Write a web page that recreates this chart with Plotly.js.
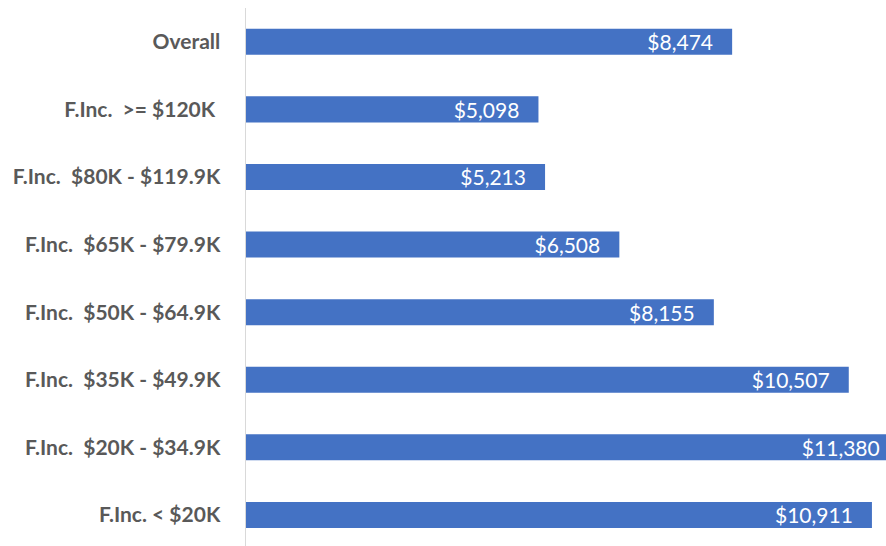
<!DOCTYPE html>
<html>
<head>
<meta charset="utf-8">
<script src="https://cdn.plot.ly/plotly-3.0.1.min.js"></script>
<style>html,body{margin:0;padding:0;background:#fff;}#chart{width:886px;height:546px;}</style>
</head>
<body>
<div id="chart"></div>
<script>
// Categories, top to bottom
var categories = [
  "Overall",
  "F.Inc.\u00a0 >= $120K\u00a0",
  "F.Inc.\u00a0 $80K - $119.9K",
  "F.Inc.\u00a0 $65K - $79.9K",
  "F.Inc.\u00a0 $50K - $64.9K",
  "F.Inc.\u00a0 $35K - $49.9K",
  "F.Inc.\u00a0 $20K - $34.9K",
  "F.Inc. < $20K"
];
var values = [8474, 5098, 5213, 6508, 8155, 10507, 11380, 10911];

var trace = {
  type: "bar",
  orientation: "h",
  x: values,
  y: categories,
  marker: {color: "#4472C4", line: {width: 0}},
  texttemplate: "$%{x:,}\u00a0\u00a0\u00a0",
  textposition: "inside",
  insidetextanchor: "end",
  textangle: 0,
  insidetextfont: {family: "Lato, 'Open Sans', sans-serif", size: 21, color: "#ffffff"},
  constraintext: "none",
  cliponaxis: true,
  hoverinfo: "none"
};

var layout = {
  width: 886,
  height: 546,
  margin: {l: 246, r: 0, t: 8, b: 0},
  paper_bgcolor: "#ffffff",
  plot_bgcolor: "#ffffff",
  bargap: 0.615,
  showlegend: false,
  xaxis: {
    range: [0, 11156],
    showgrid: false,
    zeroline: false,
    showticklabels: false,
    showline: false,
    ticks: ""
  },
  yaxis: {
    type: "category",
    range: [7.46, -0.5],
    showgrid: false,
    zeroline: false,
    showline: true,
    linecolor: "#d9d9d9",
    linewidth: 1.5,
    ticks: "",
    ticklabelstandoff: 20,
    tickfont: {family: "Lato, 'Open Sans', sans-serif", size: 21, color: "#595959", weight: "bold"}
  }
};

Plotly.newPlot("chart", [trace], layout, {displayModeBar: false, staticPlot: true});
</script>
</body>
</html>
